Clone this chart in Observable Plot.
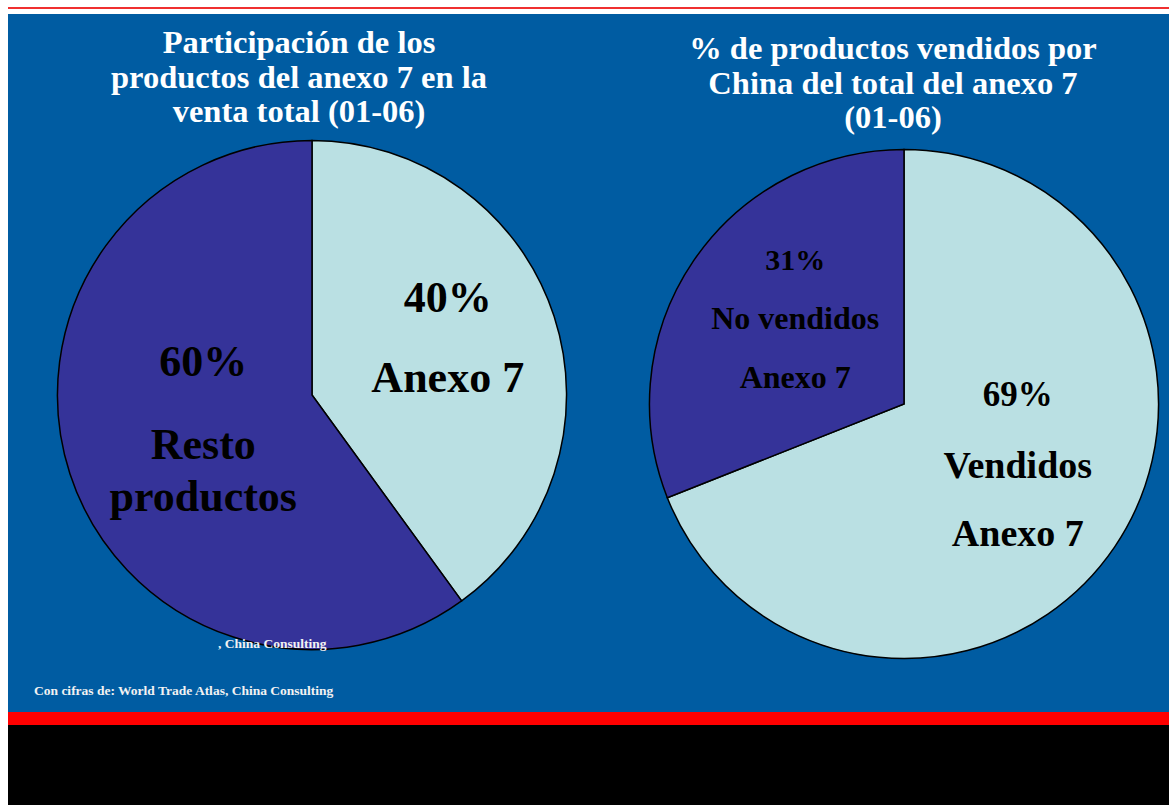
<!DOCTYPE html>
<html>
<head>
<meta charset="utf-8">
<script src="https://cdn.jsdelivr.net/npm/d3@7"></script>
<script src="https://cdn.jsdelivr.net/npm/@observablehq/plot@0.6"></script>
<style>
  html, body { margin: 0; padding: 0; }
  body { width: 1169px; height: 805px; position: relative; overflow: hidden; background: #ffffff; font-family: "Liberation Serif", "DejaVu Serif", serif; }
  .abs { position: absolute; }
  .title { color: #ffffff; font-weight: bold; font-size: 32.5px; line-height: 34.5px; text-align: center; white-space: nowrap; }
  .foot { color: #f2f2f2; font-weight: bold; font-size: 13.5px; line-height: 13px; white-space: nowrap; }
</style>
</head>
<body>
<div class="abs" style="left:8px;top:7px;width:1161px;height:2px;background:#f03030;"></div>
<div class="abs" style="left:8px;top:14px;width:1161px;height:698px;background:#005ca2;"></div>
<div class="abs" style="left:8px;top:712px;width:1161px;height:13px;background:#ff0000;"></div>
<div class="abs" style="left:8px;top:725px;width:1161px;height:80px;background:#000000;"></div>
<div id="pieLeft" class="abs" style="left:31.5px;top:115px;width:560px;height:560px;"></div>
<div id="pieRight" class="abs" style="left:624px;top:124px;width:560px;height:560px;"></div>
<div id="titleLeft" class="abs title" style="left:0px;top:25px;width:598px;"></div>
<div id="titleRight" class="abs title" style="left:593px;top:31px;width:600px;"></div>
<div id="noteLeft" class="abs foot" style="left:218px;top:637px;"></div>
<div id="source" class="abs foot" style="left:34px;top:684px;"></div>
<script>
// ---- Data ----
const leftTitle = ["Participación de los", "productos del anexo 7 en la", "venta total (01-06)"];
const leftCategories = ["Anexo 7", "Resto productos"];
const leftValues = [40, 60];
const leftLabelLines = [["40%", "Anexo 7"], ["60%", "Resto", "productos"]];

const rightTitle = ["% de productos vendidos por", "China del total del anexo 7", "(01-06)"];
const rightCategories = ["Vendidos Anexo 7", "No vendidos Anexo 7"];
const rightValues = [69, 31];
const rightLabelLines = [["69%", "Vendidos", "Anexo 7"], ["31%", "No vendidos", "Anexo 7"]];

const leftNote = ", China Consulting";
const sourceNote = "Con cifras de: World Trade Atlas, China Consulting";

// ---- Styles / layout ----
const sliceColors = ["#bae0e3", "#353399"];
const leftLabelLayout = [
  {dx: -10, dys: [-50, 30], sizes: [44, 44]},
  {dx: 36, dys: [-81, 2, 54], sizes: [44, 44, 44]}
];
const rightLabelLayout = [
  {dx: -13, dys: [-96, -25, 43], sizes: [35, 38, 38]},
  {dx: 17, dys: [-58, 0, 59], sizes: [30, 32, 32]}
];

function pieChart(categories, values, labelLines, layout) {
  const arcs = d3.pie().sort(null)(values);
  const wedges = (index, scales) => {
    const r = scales.x(1) - scales.x(0);
    const g = d3.create("svg:g")
      .attr("transform", `translate(${scales.x(0)},${scales.y(0)})`);
    g.selectAll("path").data(arcs).join("path")
      .attr("d", d3.arc().innerRadius(0).outerRadius(r))
      .attr("fill", (d, i) => sliceColors[i])
      .attr("stroke", "#000")
      .attr("stroke-width", 1.5)
      .append("title").text((d, i) => `${categories[i]}: ${values[i]}%`);
    return g.node();
  };
  const textMarks = [];
  arcs.forEach((a, i) => {
    const mid = (a.startAngle + a.endAngle) / 2;
    const pos = [{x: 0.6 * Math.sin(mid), y: 0.6 * Math.cos(mid)}];
    labelLines[i].forEach((line, j) => {
      textMarks.push(Plot.text(pos, {
        x: "x", y: "y", text: () => line,
        dx: layout[i].dx, dy: layout[i].dys[j],
        fontSize: layout[i].sizes[j], fontWeight: "bold",
        fontFamily: "Liberation Serif, DejaVu Serif, serif",
        fill: "#000", textAnchor: "middle", lineAnchor: "middle"
      }));
    });
  });
  return Plot.plot({
    width: 560, height: 560,
    marginTop: 0, marginBottom: 0, marginLeft: 0, marginRight: 0,
    x: {domain: [-1.1, 1.1], axis: null},
    y: {domain: [-1.1, 1.1], axis: null},
    style: {background: "transparent", overflow: "visible"},
    marks: [wedges, ...textMarks]
  });
}

document.getElementById("pieLeft").appendChild(pieChart(leftCategories, leftValues, leftLabelLines, leftLabelLayout));
document.getElementById("pieRight").appendChild(pieChart(rightCategories, rightValues, rightLabelLines, rightLabelLayout));

function setLines(id, lines) {
  const el = document.getElementById(id);
  lines.forEach((t, i) => {
    if (i) el.appendChild(document.createElement("br"));
    el.appendChild(document.createTextNode(t));
  });
}
setLines("titleLeft", leftTitle);
setLines("titleRight", rightTitle);
document.getElementById("noteLeft").textContent = leftNote;
document.getElementById("source").textContent = sourceNote;
</script>
</body>
</html>
